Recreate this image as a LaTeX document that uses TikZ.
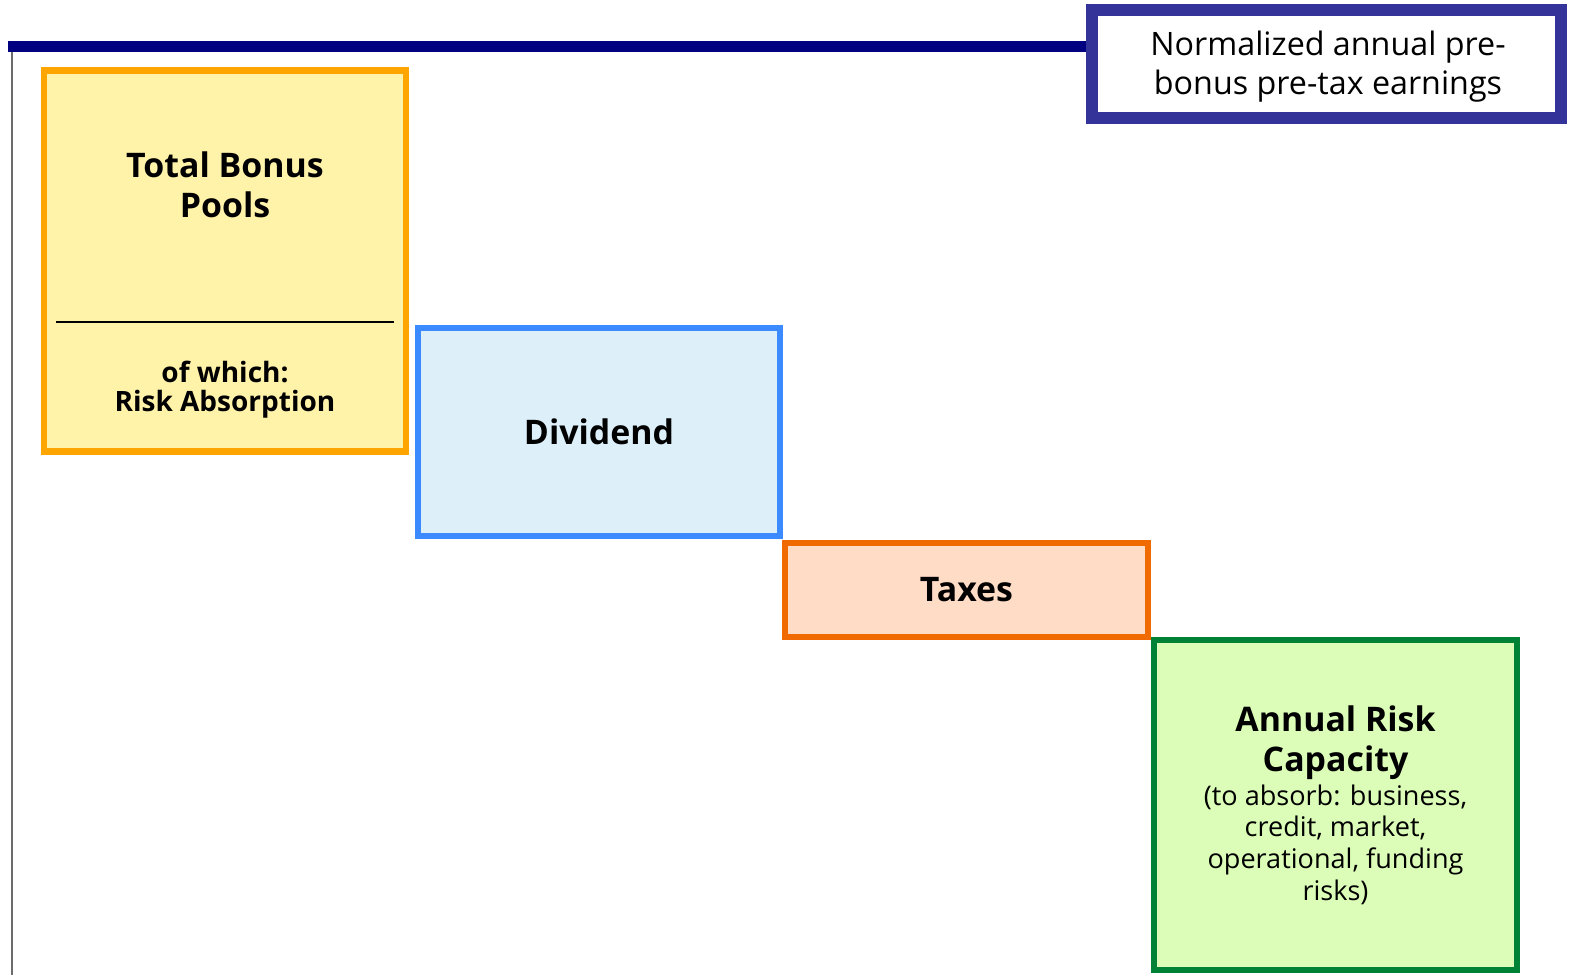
\documentclass[tikz,border=0pt]{standalone}
\usepackage{fontspec}
\setmainfont{Open Sans}
\definecolor{barnavy}{HTML}{000080}
\definecolor{boxnavy}{HTML}{333399}
\definecolor{yfill}{HTML}{FFF3AA}
\definecolor{ydraw}{HTML}{FFA500}
\definecolor{bfill}{HTML}{DDF0FA}
\definecolor{bdraw}{HTML}{3C8AFF}
\definecolor{tfill}{HTML}{FFDCC6}
\definecolor{tdraw}{HTML}{F06A00}
\definecolor{gfill}{HTML}{DBFDB8}
\definecolor{gdraw}{HTML}{008236}
\begin{document}
\begin{tikzpicture}[x=0.75pt,y=-0.75pt,
  blockbox/.style={rectangle,inner sep=0pt,line width=4.6pt},
  headtext/.style={align=center,font=\fontsize{25.4}{30}\selectfont\bfseries,inner sep=0pt},
  subhead/.style={align=center,font=\fontsize{21}{22}\selectfont\bfseries,inner sep=0pt},
  bodytext/.style={align=center,font=\fontsize{20.3}{23.8}\selectfont,inner sep=0pt},
  navytext/.style={align=center,font=\fontsize{24.2}{29.6}\selectfont,inner sep=0pt}]
\useasboundingbox (0,0) rectangle (1595,975);
% boxes
\node[blockbox,draw=ydraw,fill=yfill,minimum width=362*0.75pt,minimum height=381*0.75pt] (bonus) at (225,261) {};
\node[blockbox,draw=bdraw,fill=bfill,minimum width=362*0.75pt,minimum height=208*0.75pt,line width=4.9pt] (div) at (599,432) {};
\node[blockbox,draw=tdraw,fill=tfill,minimum width=363*0.75pt,minimum height=94*0.75pt] (tax) at (966.5,590) {};
\node[blockbox,draw=gdraw,fill=gfill,minimum width=363*0.75pt,minimum height=330*0.75pt] (arc) at (1335.5,805) {};
\node[blockbox,draw=boxnavy,fill=white,minimum width=469*0.75pt,minimum height=108*0.75pt,line width=9pt] (earn) at (1326.5,64) {};
% lines
\coordinate (barstart) at (8,46.5);
\draw[barnavy,line width=8.6pt] (barstart) -- (barstart -| earn.west);
\coordinate (axtop) at (12,52);
\coordinate (axbot) at (12,975);
\draw[gray!85!black,line width=1.2pt] (axtop) -- (axbot);
\coordinate (divl) at (56,322);
\coordinate (divr) at (394,322);
\draw[black,line width=1.5pt] (divl) -- (divr);
% texts
\node[headtext] (bonustitle) at (225,185) {Total Bonus\\Pools};
\node[subhead] (bonussub) at (225,389.5) {of which:\\Risk Absorption};
\node[headtext] (divtext) at (div.center) {Dividend};
\node[headtext] (taxtext) at (tax.center) {Taxes};
\node[headtext] (arctitle) at (1335.5,742.5) {Annual Risk\\Capacity};
\node[bodytext] (arcsub) at (1335.5,844.5) {(to absorb: business,\\credit, market,\\operational, funding\\risks)};
\node[navytext] (earntext) at (1328,66.5) {Normalized annual pre-\\bonus pre-tax earnings};
\end{tikzpicture}
\end{document}
